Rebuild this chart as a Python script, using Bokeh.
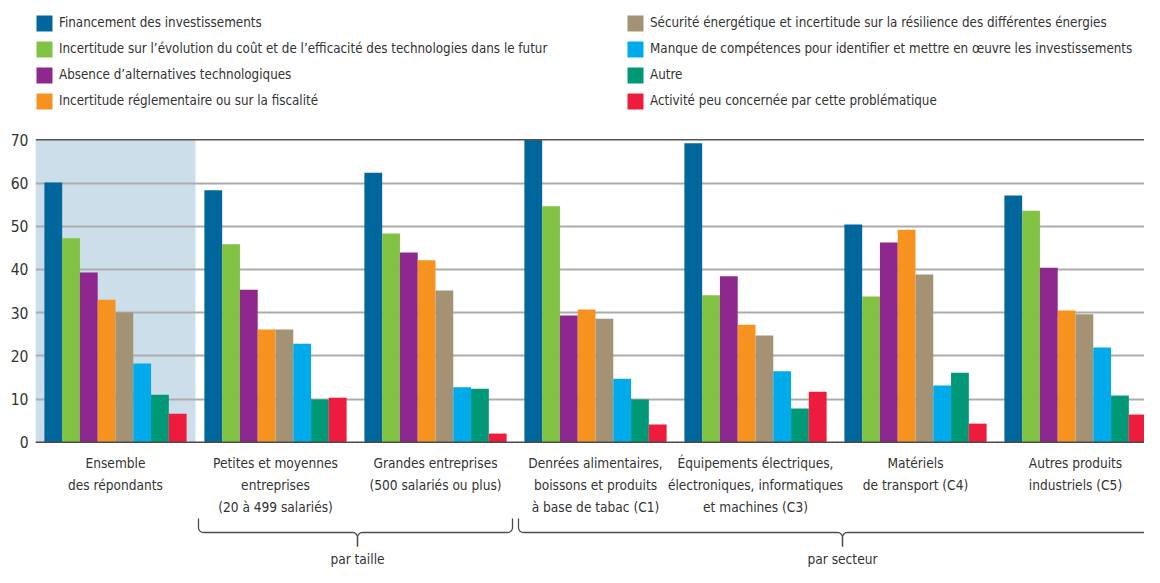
import numpy as np
from bokeh.plotting import figure
from bokeh.models import (ColumnDataSource, Legend, LegendItem, FixedTicker,
                          Span, Range1d)
from bokeh.core.properties import value
from bokeh.embed import file_html
from bokeh.resources import INLINE

# ---------------- data ----------------
categories = [
    "Ensemble\ndes répondants",
    "Petites et moyennes\nentreprises\n(20 à 499 salariés)",
    "Grandes entreprises\n(500 salariés ou plus)",
    "Denrées alimentaires,\nboissons et produits\nà base de tabac (C1)",
    "Équipements électriques,\nélectroniques, informatiques\net machines (C3)",
    "Matériels\nde transport (C4)",
    "Autres produits\nindustriels (C5)",
]
series_names = [
    "Financement des investissements",
    "Incertitude sur l’évolution du coût et de l’efficacité des technologies dans le futur",
    "Absence d’alternatives technologiques",
    "Incertitude réglementaire ou sur la fiscalité",
    "Sécurité énergétique et incertitude sur la résilience des différentes énergies",
    "Manque de compétences pour identifier et mettre en œuvre les investissements",
    "Autre",
    "Activité peu concernée par cette problématique",
]
financement = [60.1, 58.3, 62.4, 70.0, 69.2, 50.4, 57.1]
incertitude_cout = [47.2, 45.8, 48.3, 54.6, 34.0, 33.7, 53.6]
absence_alternatives = [39.3, 35.3, 43.9, 29.3, 38.4, 46.2, 40.4]
incertitude_reglementaire = [33.0, 26.1, 42.1, 30.7, 27.2, 49.2, 30.5]
securite_energetique = [30.0, 26.1, 35.1, 28.6, 24.7, 38.8, 29.6]
manque_competences = [18.2, 22.8, 12.7, 14.7, 16.4, 13.1, 21.9]
autre = [11.0, 9.9, 12.4, 9.9, 7.8, 16.1, 10.8]
peu_concernee = [6.6, 10.3, 2.0, 4.1, 11.7, 4.3, 6.4]
series_values = [financement, incertitude_cout, absence_alternatives,
                 incertitude_reglementaire, securite_energetique,
                 manque_competences, autre, peu_concernee]
colors = ["#00669b", "#80c242", "#8e278e", "#f6921e",
          "#a39374", "#00aaeb", "#009877", "#ee1b3c"]
y_ticks = [0, 10, 20, 30, 40, 50, 60, 70]
grid_ticks = [10, 20, 30, 40, 50, 60]
group_names = ["par taille", "par secteur"]
group_spans = [(1, 2), (3, 6)]  # category index ranges covered by each brace

# ---------------- layout ----------------
FONT = "DejaVu Sans Condensed, DejaVu Sans, sans-serif"
TEXT_COLOR = "#333333"
W, H = 1144, 567
LEFT = 35
PXU = 4.32          # pixels per unit on y
ZERO_PX = 441.7     # px from the top of the figure where 0 sits
GROUP_PX = 160.0    # pixels per category
x_start = -0.5
x_end = x_start + (W - LEFT) / GROUP_PX
y_start = -(H - ZERO_PX) / PXU
y_end = ZERO_PX / PXU


def ypx(page_y):
    """value corresponding to a pixel row of the figure"""
    return (ZERO_PX - page_y) / PXU


def xpx(px):
    return px / GROUP_PX


p = figure(width=W, height=H, x_range=Range1d(x_start, x_end),
           y_range=Range1d(y_start, y_end), output_backend="svg",
           toolbar_location=None, x_axis_location=None,
           min_border_left=LEFT, min_border_right=0,
           min_border_top=0, min_border_bottom=0)
p.outline_line_color = None
p.background_fill_color = "white"
p.border_fill_color = "white"

# y axis
p.yaxis.ticker = FixedTicker(ticks=y_ticks)
p.yaxis.axis_line_color = None
p.yaxis.major_tick_line_color = None
p.yaxis.minor_tick_line_color = None
p.yaxis.major_tick_out = 0
p.yaxis.major_tick_in = 0
p.yaxis.minor_tick_out = 0
p.yaxis.minor_tick_in = 0
p.yaxis.major_label_standoff = 7
p.yaxis.major_label_text_font = FONT
p.yaxis.major_label_text_font_size = "15.5px"
p.yaxis.major_label_text_color = TEXT_COLOR

# grid
p.xgrid.visible = False
p.ygrid.ticker = FixedTicker(ticks=grid_ticks)
p.ygrid.grid_line_color = "#acacac"
p.ygrid.grid_line_width = 2

# shaded "Ensemble" column
p.quad(left=-0.5, right=0.5, bottom=0, top=max(y_ticks),
       fill_color="#cddeeb", line_color=None, level="image")

# bars
n = len(series_names)
slot = 1.0 / (n + 1)
idx = np.arange(len(categories))
renderers = []
for j, (vals, col) in enumerate(zip(series_values, colors)):
    src = ColumnDataSource(dict(x=idx + (j - (n - 1) / 2) * slot, top=vals))
    r = p.vbar(x="x", top="top", bottom=0, width=slot, source=src,
               fill_color=col, line_color=None)
    renderers.append(r)

# baseline and top line
p.add_layout(Span(location=0, dimension="width", line_color="#4a4a4a", line_width=1.6))
p.add_layout(Span(location=max(y_ticks), dimension="width", line_color="#555555", line_width=1.6))


# legends (two columns)
def make_legend(items, loc):
    return Legend(items=items, location=loc, orientation="vertical",
                  glyph_width=20, glyph_height=20, label_height=20,
                  label_standoff=5, spacing=6, padding=0, margin=0,
                  border_line_color=None, background_fill_alpha=0,
                  label_text_font=FONT, label_text_font_size="13.3px",
                  label_text_color=TEXT_COLOR)


items = [LegendItem(label=s, renderers=[r]) for s, r in zip(series_names, renderers)]
LEG_Y = H - 12.8 - 98
p.add_layout(make_legend(items[:4], (-1, LEG_Y)), "center")
p.add_layout(make_legend(items[4:], (590, LEG_Y)), "center")

# category labels
lx, ly, lt = [], [], []
for i, c in enumerate(categories):
    for k, line in enumerate(c.split("\n")):
        lx.append(i)
        ly.append(ypx(462 + 22 * k))
        lt.append(line)
p.text(x="x", y="y", text="t", source=ColumnDataSource(dict(x=lx, y=ly, t=lt)),
       text_align="center", text_baseline="middle",
       text_font=value(FONT), text_font_size="13.6px", text_color=TEXT_COLOR)

# braces
TOP, HOR, TIP, R = 518, 532, 546, 5
tip_offsets = [2, 7]
ext = [0, 30]
t = np.linspace(0, np.pi / 2, 12)
gx, gy, gt = [], [], []
for (a, b), name, toff, e in zip(group_spans, group_names, tip_offsets, ext):
    xa = a - 0.5 + xpx(3)
    xb = b + 0.5 - xpx(3) + xpx(e)
    xt = (a + b) / 2 + xpx(toff)
    lys = [ypx(TOP), ypx(HOR - R)] + list(ypx(HOR - R + R * np.sin(t))) + \
          list(ypx(HOR + R - R * np.cos(t))) + [ypx(TIP)]
    lxs = [xa, xa] + list(xa + xpx(R - R * np.cos(t))) + \
          list(xt - xpx(R) + xpx(R * np.sin(t))) + [xt]
    rxs = [xb, xb] + list(xb - xpx(R - R * np.cos(t))) + \
          list(xt + xpx(R) - xpx(R * np.sin(t))) + [xt]
    p.line(lxs, lys, line_color="#4d4d4d", line_width=1.3)
    p.line(rxs, lys, line_color="#4d4d4d", line_width=1.3)
    gx.append(xt)
    gy.append(ypx(558))
    gt.append(name)
p.text(x="x", y="y", text="t", source=ColumnDataSource(dict(x=gx, y=gy, t=gt)),
       text_align="center", text_baseline="middle",
       text_font=value(FONT), text_font_size="13.6px", text_color=TEXT_COLOR)

open("out.html", "w").write(file_html(p, INLINE))
